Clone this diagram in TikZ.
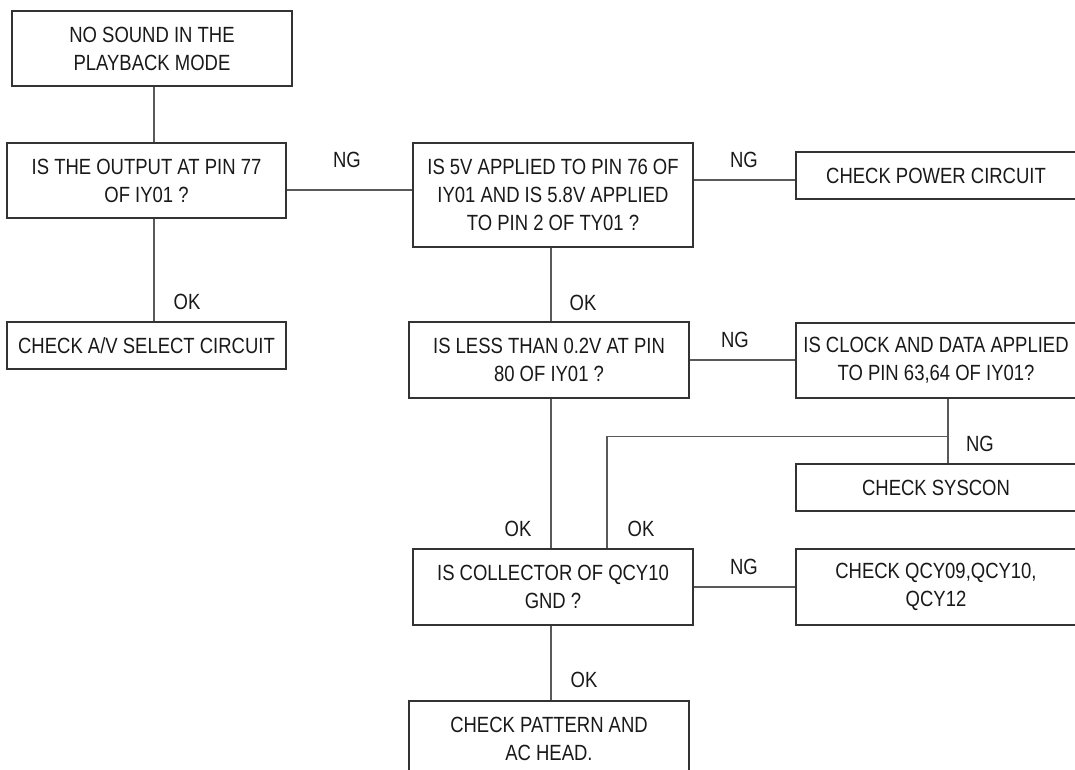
\documentclass[tikz,border=0pt]{standalone}
\usepackage{fontspec}
\setmainfont{Liberation Sans}[FakeStretch=0.84]
\usetikzlibrary{positioning,calc}

\begin{document}
\begin{tikzpicture}[x=1pt,y=-1pt,
  box/.style={draw=black!80, line width=1.2pt, minimum width=280pt, inner sep=0pt,
              align=center, text=black!90, font=\fontsize{22}{28}\selectfont},
  wire/.style={draw=black!65, line width=1.1pt},
  tag/.style={text=black!90, font=\fontsize{22}{28}\selectfont}]
  \useasboundingbox (0,0) rectangle (1075,770);
  \clip (0,0) rectangle (1075,770);

  % Left column
  \node[box, minimum height=75pt] (nosound) at (152,48.5) {NO SOUND IN THE\\PLAYBACK MODE};
  \node[box, minimum width=279pt, minimum height=75pt] (outpin) at (146.5,180.5) {IS THE OUTPUT AT PIN 77\\OF IY01 ?};
  \node[box, minimum width=279pt, minimum height=47pt] (avsel) at (146.5,345.5) {CHECK A/V SELECT CIRCUIT};

  % Middle column
  \node[box, minimum height=104pt] (fivev) at (553,195) {IS 5V APPLIED TO PIN 76 OF\\IY01 AND IS 5.8V APPLIED\\TO PIN 2 OF TY01 ?};
  \node[box, minimum height=76pt] (lessv) at (549,360) {IS LESS THAN 0.2V AT PIN\\80 OF IY01 ?};
  \node[box, minimum height=76pt] (collect) at (553,587) {IS COLLECTOR OF QCY10\\GND ?};
  \node[box, minimum height=75pt] (pattern) at (549,738.5) {CHECK PATTERN AND\\AC HEAD.};

  % Right column
  \node[box, minimum height=47pt] (power) at (936,175.5) {CHECK POWER CIRCUIT};
  \node[box, minimum height=75pt] (clock) at (936,360.5) {IS CLOCK AND DATA APPLIED\\TO PIN 63,64 OF IY01?};
  \node[box, minimum height=47pt] (syscon) at (936,487.5) {CHECK SYSCON};
  \node[box, minimum height=76pt] (qcy) at (936,587) {CHECK QCY09,QCY10,\\QCY12};

  % Vertical links
  \draw[wire] ([xshift=2pt]nosound.south) -- ([xshift=7.5pt]outpin.north);
  \draw[wire] ([xshift=7.5pt]outpin.south) -- ([xshift=7.5pt]avsel.north);
  \draw[wire] ([xshift=-2pt]fivev.south) -- ([xshift=2pt]lessv.north);
  \draw[wire] ([xshift=2pt]lessv.south) -- ([xshift=-2pt]collect.north);
  \draw[wire] ([xshift=-2pt]collect.south) -- ([xshift=2pt]pattern.north);
  \draw[wire] ([xshift=12pt]clock.south) -- coordinate[pos=0.58] (split) ([xshift=12pt]syscon.north);
  \draw[wire] (split) -| ([xshift=54pt]collect.north);

  % Horizontal links
  \draw[wire] ([yshift=-9.5pt]outpin.east) -- ([yshift=5pt]fivev.west);
  \draw[wire] ([yshift=15pt]fivev.east) -- ([yshift=-4.5pt]power.west);
  \draw[wire] (lessv.east) -- (lessv.east -| clock.west);
  \draw[wire] (collect.east) -- (qcy.west);

  % OK / NG tags
  \foreach \name/\x/\y/\txt in {ng1/347/160/NG, ok1/187/302/OK, ng2/744/160/NG,
      ok2/583/303/OK, ng3/735/340/NG, ng4/980/444/NG, ok3/518/529/OK,
      ok4/641/529/OK, ng5/744/567/NG, ok5/584/680/OK} {
    \node[tag] (\name) at (\x,\y) {\txt};
  }
\end{tikzpicture}
\end{document}
